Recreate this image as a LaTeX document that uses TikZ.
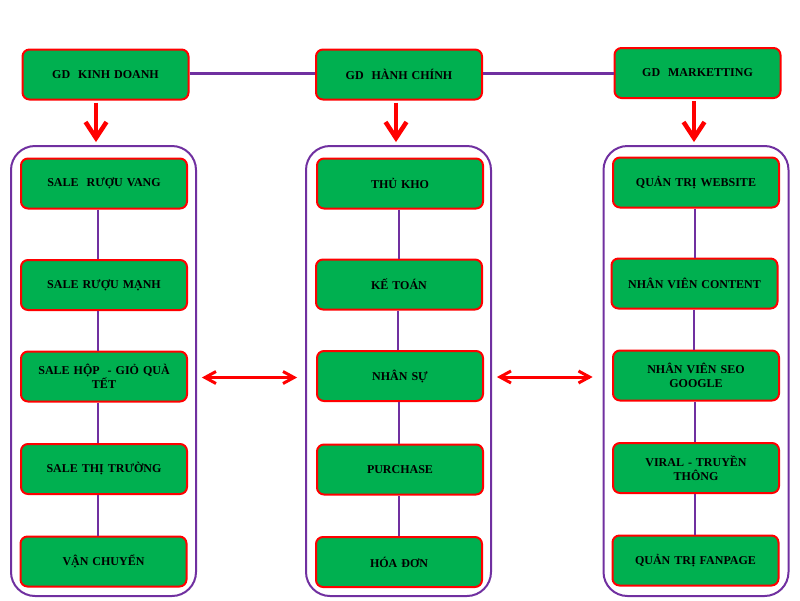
\documentclass[tikz,border=0pt]{standalone}
\usepackage{fontspec}
\setmainfont{Liberation Serif}
\usetikzlibrary{calc}
\definecolor{boxgreen}{RGB}{0,176,80}
\definecolor{lineviolet}{RGB}{112,48,160}
\begin{document}
\begin{tikzpicture}[x=1pt,y=-1pt,
  unit/.style={draw=red,line width=2pt,fill=boxgreen,rounded corners=7pt,
    minimum width=166pt,minimum height=50pt,text width=150pt,align=center,
    inner sep=0pt,font=\fontsize{12}{14}\selectfont\bfseries},
  group/.style={draw=lineviolet,line width=2pt,rounded corners=24pt,
    minimum width=185pt,minimum height=450pt,inner sep=0pt},
  link/.style={draw=lineviolet,line width=2pt},
  toplink/.style={draw=lineviolet,line width=3pt},
  down/.style={draw=red,line width=4.5pt,line join=miter},
  both/.style={draw=red,line width=3pt,line join=miter}
]
\useasboundingbox (0,0) rectangle (800,600);
% groups
\node[group] (cl) at (103.5,371) {};
\node[group] (cm) at (398.5,371) {};
\node[group] (cr) at (696,371) {};
% top nodes
\node[unit] (gk) at (105.5,74.5) {GD\ \ KINH DOANH};
\node[unit] (gh) at (399,74.5) {GD\ \ HÀNH CHÍNH};
\node[unit] (gm) at (697.5,73) {GD\ \ MARKETTING};
\draw[toplink] ([yshift=1.5pt]gk.east) -- ([yshift=1.5pt]gh.west);
\draw[toplink] ([yshift=1.5pt]gh.east) -- (gm.west);
% left column
\node[unit] (k1) at (104,183.5) {SALE\ \ RƯỢU VANG};
\node[unit] (k2) at (104,285) {SALE RƯỢU MẠNH};
\node[unit] (k3) at (104,376.5) {SALE HỘP\ \ - GIỎ QUÀ\\TẾT};
\node[unit] (k4) at (104,469) {SALE THỊ TRƯỜNG};
\node[unit] (k5) at (103.5,561.5) {VẬN CHUYỂN};
% middle column
\node[unit] (h1) at (400,183.5) {THỦ KHO};
\node[unit] (h2) at (399,284.5) {KẾ TOÁN};
\node[unit] (h3) at (400,376) {NHÂN SỰ};
\node[unit] (h4) at (400,469.5) {PURCHASE};
\node[unit] (h5) at (399,562) {HÓA ĐƠN};
% right column
\node[unit] (m1) at (696,182.5) {QUẢN TRỊ WEBSITE};
\node[unit] (m2) at (694.5,283.5) {NHÂN VIÊN CONTENT};
\node[unit] (m3) at (696,375.5) {NHÂN VIÊN SEO\\GOOGLE};
\node[unit] (m4) at (696,468) {VIRAL - TRUYỀN\\THÔNG};
\node[unit] (m5) at (695.5,560.5) {QUẢN TRỊ FANPAGE};
% column links
\foreach \c/\dx in {k/-6,h/-1,m/-1}{
  \draw[link] ([xshift=\dx pt]\c1.south) -- ([xshift=\dx pt]\c1.south |- \c2.north);
  \draw[link] ([xshift=\dx pt]\c2.south) -- ([xshift=\dx pt]\c2.south |- \c3.north);
  \draw[link] ([xshift=\dx pt]\c3.south) -- ([xshift=\dx pt]\c3.south |- \c4.north);
  \draw[link] ([xshift=\dx pt]\c4.south) -- ([xshift=\dx pt]\c4.south |- \c5.north);
}
% down arrows (shaft + open chevron head)
\foreach \n/\g/\x in {gk/cl/96,gh/cm/396,gm/cr/694}{
  \coordinate (s\n) at (\x,0 |- \n.south);
  \coordinate (t\n) at ($(\x,0 |- \g.north)+(0,-7)$);
  \draw[down] ($(s\n)+(0,2)$) -- ($(t\n)+(0,-2)$);
  \draw[down] ($(t\n)+(-10.5,-16)$) -- (t\n) -- ($(t\n)+(10.5,-16)$);
}
% double arrows
\foreach \a/\b/\r/\sl/\sr in {cl/cm/k3/8/11,cm/cr/h3/8/13}{
  \coordinate (L\a) at ($(\a.east |- \r)+(\sl,1)$);
  \coordinate (R\a) at ($(\b.west |- \r)+(-\sr,1)$);
  \draw[both] (L\a) -- (R\a);
  \draw[both] ($(L\a)+(11,-6)$) -- (L\a) -- ($(L\a)+(11,6)$);
  \draw[both] ($(R\a)+(-11,-6)$) -- (R\a) -- ($(R\a)+(-11,6)$);
}
\end{tikzpicture}
\end{document}
